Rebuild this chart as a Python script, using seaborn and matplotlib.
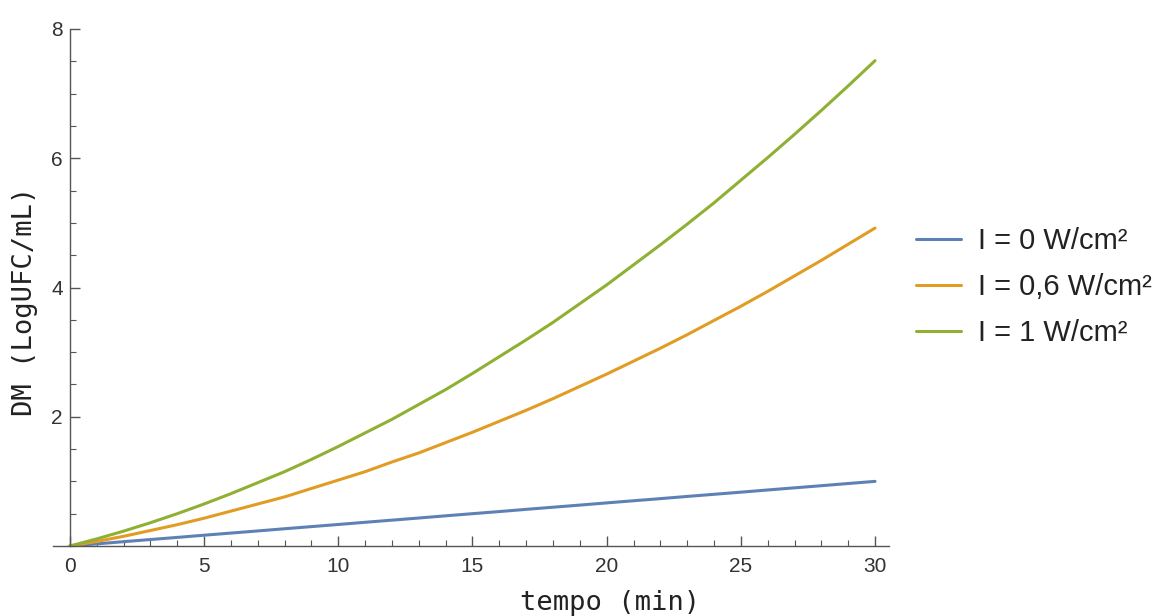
import numpy as np
import pandas as pd
import matplotlib
matplotlib.use("Agg")
import matplotlib.pyplot as plt
import seaborn as sns
from matplotlib.ticker import MultipleLocator, FixedLocator

# ---- data (one reading per minute) ----
tempo = list(range(0, 31))
dm_i0 = [0.000, 0.033, 0.067, 0.100, 0.133, 0.167, 0.200, 0.233, 0.267, 0.300,
         0.333, 0.367, 0.400, 0.433, 0.467, 0.500, 0.533, 0.567, 0.600, 0.633,
         0.667, 0.700, 0.733, 0.767, 0.800, 0.833, 0.867, 0.900, 0.933, 0.967, 1.000]
dm_i06 = [0.00, 0.07, 0.15, 0.24, 0.33, 0.43, 0.54, 0.65, 0.76, 0.89,
          1.02, 1.15, 1.30, 1.44, 1.60, 1.76, 1.93, 2.10, 2.28, 2.47,
          2.66, 2.86, 3.06, 3.27, 3.49, 3.71, 3.94, 4.18, 4.42, 4.67, 4.92]
dm_i1 = [0.00, 0.11, 0.23, 0.36, 0.50, 0.65, 0.81, 0.98, 1.15, 1.34,
         1.54, 1.75, 1.96, 2.19, 2.42, 2.67, 2.93, 3.19, 3.46, 3.75,
         4.04, 4.35, 4.66, 4.98, 5.31, 5.66, 6.01, 6.37, 6.74, 7.12, 7.51]
series_labels = ["I = 0 W/cm²", "I = 0,6 W/cm²", "I = 1 W/cm²"]
colors = ["#5E81B5", "#E19C24", "#8FB032"]
x_ticks = [0, 5, 10, 15, 20, 25, 30]
y_ticks = [2, 4, 6, 8]

df = pd.concat([
    pd.DataFrame({"tempo": tempo, "DM": vals, "serie": lab})
    for vals, lab in zip([dm_i0, dm_i06, dm_i1], series_labels)
], ignore_index=True)

sns.set_theme(style="white")
plt.rcParams["font.family"] = ["Liberation Sans", "DejaVu Sans"]

fig = plt.figure(figsize=(11.6, 6.16), dpi=100)
ax = fig.add_axes([53 / 1160, 70 / 616, (889 - 53) / 1160, (546 - 29) / 616])

sns.lineplot(data=df, x="tempo", y="DM", hue="serie", hue_order=series_labels,
             palette=colors, linewidth=2.2, ax=ax, legend=True)

ax.set_xlim(-0.63, 30.52)
ax.set_ylim(0, 8)

for s in ["top", "right"]:
    ax.spines[s].set_visible(False)
ax.spines["left"].set_position(("data", 0))
ax.spines["bottom"].set_position(("data", 0))
for s in ["left", "bottom"]:
    ax.spines[s].set_color("#555555")
    ax.spines[s].set_linewidth(1.0)

ax.xaxis.set_major_locator(FixedLocator(x_ticks))
ax.xaxis.set_minor_locator(MultipleLocator(1))
ax.yaxis.set_major_locator(FixedLocator(y_ticks))
ax.yaxis.set_minor_locator(MultipleLocator(0.5))
ax.tick_params(axis="both", which="major", direction="in", length=7, width=1,
               color="#555555", labelsize=15, labelcolor="#333333")
ax.tick_params(axis="both", which="minor", direction="in", length=4, width=0.8,
               color="#555555")
ax.tick_params(axis="x", which="major", pad=8)
ax.tick_params(axis="y", which="major", pad=5)
ax.tick_params(axis="both", which="both", bottom=True, left=True)

ax.set_xlabel("tempo (min)", fontsize=19.5, family="DejaVu Sans Mono", color="#222222")
ax.set_ylabel("DM (LogUFC/mL)", fontsize=19.5, family="DejaVu Sans Mono", color="#222222")
ax.xaxis.label.set_va("center")
ax.yaxis.label.set_va("center")
ax.xaxis.set_label_coords((610 - 53) / (889 - 53), -(603 - 546) / 517)
ax.yaxis.set_label_coords((25 - 53) / (889 - 53), (546 - 301) / 517)

leg = ax.legend(loc="center left", bbox_to_anchor=(904 / 1160, 1 - 287 / 616),
                bbox_transform=fig.transFigure, frameon=False, fontsize=21,
                handlelength=1.54, handletextpad=0.58, labelspacing=0.61,
                borderaxespad=0)
for line in leg.get_lines():
    line.set_linewidth(2.2)
for t in leg.get_texts():
    t.set_color("#222222")

fig.savefig("out.png", dpi=100)
